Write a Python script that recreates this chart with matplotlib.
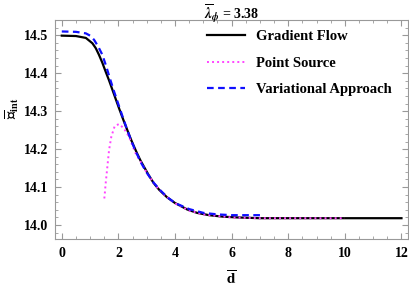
import numpy as np
import matplotlib
matplotlib.use("Agg")
import matplotlib.pyplot as plt
from matplotlib.ticker import MultipleLocator, FormatStrFormatter

plt.rcParams['font.family'] = 'Liberation Serif'
plt.rcParams['font.weight'] = 'bold'
plt.rcParams['mathtext.fontset'] = 'stix'

# gradient flow
gf_x = np.array([0, 0.5, 0.85, 1.08, 1.2, 1.31, 1.43, 1.55, 1.67, 1.79, 1.9, 2.02, 2.19,
                 2.31, 2.43, 2.55, 2.67, 2.78, 2.9, 3.05, 3.25, 3.45, 3.72, 4.0, 4.43,
                 4.78, 5.2, 5.7, 6.2, 7.0, 8.0, 10.0, 12.0])
gf_y = np.array([14.499, 14.498, 14.493, 14.479, 14.466, 14.449, 14.428, 14.404, 14.381,
                 14.356, 14.333, 14.308, 14.274, 14.251, 14.228, 14.207, 14.187, 14.170,
                 14.154, 14.134, 14.110, 14.092, 14.073, 14.058, 14.041, 14.032, 14.026,
                 14.022, 14.020, 14.018, 14.018, 14.018, 14.018])

# point source
ps_x = np.array([1.5, 1.51, 1.55, 1.61, 1.67, 1.75, 1.87, 2.02, 2.19, 2.37, 2.6, 2.8,
                 3.0, 3.3, 3.6, 4.0, 4.5, 5.0, 6.0, 7.0, 8.0, 10.0])
ps_y = np.array([14.07, 14.075, 14.11, 14.154, 14.198, 14.233, 14.261, 14.266, 14.255,
                 14.233, 14.19, 14.165, 14.138, 14.105, 14.081, 14.057, 14.038, 14.028,
                 14.020, 14.018, 14.018, 14.018])

# variational approach
va_x = np.array([0, 0.5, 0.85, 1.0, 1.14, 1.28, 1.43, 1.57, 1.7, 1.85, 2.0, 2.15, 2.3,
                 2.45, 2.6, 2.8, 3.0, 3.25, 3.5, 3.75, 4.0, 4.5, 5.0, 5.5, 6.0, 6.5, 7.0])
va_y = np.array([14.510, 14.509, 14.505, 14.499, 14.488, 14.471, 14.449, 14.418, 14.386,
                 14.351, 14.318, 14.285, 14.253, 14.223, 14.196, 14.164, 14.138, 14.111,
                 14.090, 14.072, 14.058, 14.042, 14.032, 14.028, 14.026, 14.026, 14.026])

fig = plt.figure(figsize=(4.09, 2.87), dpi=100)
ax = fig.add_axes([0.1345, 0.167, 0.863, 0.763])

ax.plot(gf_x, gf_y, color='black', lw=1.6, label="Gradient Flow")
ax.plot(ps_x, ps_y, color='#ff44ff', lw=1.4, ls=(0, (1, 1.6)), label="Point Source")
ax.plot(va_x, va_y, color='#1010ff', lw=1.6, ls=(0, (3, 2)), label="Variational Approach")

ax.set_xlim(-0.24, 12.23)
ax.set_ylim(13.963, 14.54)
ax.xaxis.set_major_locator(MultipleLocator(2))
ax.xaxis.set_minor_locator(MultipleLocator(0.5))
ax.yaxis.set_major_locator(MultipleLocator(0.1))
ax.yaxis.set_minor_locator(MultipleLocator(0.02))
ax.yaxis.set_major_formatter(FormatStrFormatter('%.1f'))
ax.tick_params(which='both', direction='in', top=True, right=True,
               color='#999999', labelsize=10)
ax.tick_params(axis='x', pad=6)
ax.tick_params(axis='y', pad=5)
ax.tick_params(which='major', length=4)
ax.tick_params(which='minor', length=2)
for s in ax.spines.values():
    s.set_color('#999999')

fig.text(0.566, 0.99, r"$\overline{\lambda}_{\phi}$ = 3.38", fontsize=10,
         fontweight='bold', ha='center', va='top')
ax.set_xlabel(r"$\overline{\mathbf{d}}$", fontsize=11, labelpad=7)
ax.set_ylabel(r"$\overline{\mathcal{E}}_{\rm int}$", fontsize=10.5)
ax.yaxis.set_label_coords(-0.095, 0.60)

ax.legend(loc='upper left', frameon=False, fontsize=10.5, handlelength=2.6,
          handletextpad=0.75, labelspacing=0.92, borderpad=0, borderaxespad=0,
          bbox_to_anchor=(0.431, 0.955))

fig.savefig("out.png", dpi=100)
